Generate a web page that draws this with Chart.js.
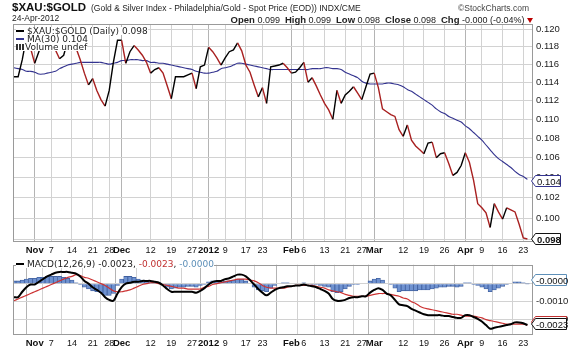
<!DOCTYPE html>
<html><head><meta charset="utf-8">
<script src="https://cdn.jsdelivr.net/npm/chart.js@4.4.0/dist/chart.umd.min.js"></script>
<style>
html,body{margin:0;padding:0;background:#fff;}
#wrap{position:relative;width:580px;height:349px;overflow:hidden;font-family:"Liberation Sans",Arial,sans-serif;color:#111;}
canvas{position:absolute;left:0;}
.t{position:absolute;white-space:nowrap;line-height:1;}
.lg{position:absolute;white-space:nowrap;font-family:"DejaVu Sans",Verdana,sans-serif;font-size:9px;line-height:8px;height:8px;background:#fff;color:#222;}
.dash{display:inline-block;width:8px;height:2px;vertical-align:middle;margin-right:3px;position:relative;top:-1px;}
svg.b{position:absolute;overflow:visible;}
</style></head><body>
<div id="wrap">
  <canvas id="main" width="580" height="256" style="top:0;width:580px;height:256px"></canvas>
  <canvas id="macd" width="580" height="93" style="top:256px;width:580px;height:93px"></canvas>

  <div class="t" style="left:12px;top:2px;font-size:11.5px;font-weight:bold;">$XAU:$GOLD</div>
  <div class="t" style="left:91px;top:4px;font-size:8.5px;color:#222;">(Gold &amp; Silver Index - Philadelphia/Gold - Spot Price (EOD)) INDX/CME</div>
  <div class="t" style="left:12px;top:14px;font-size:8.5px;color:#222;">24-Apr-2012</div>
  <div class="t" style="left:458px;top:4px;font-size:8.5px;color:#444;">&#169;StockCharts.com</div>
  <div class="t" style="right:47px;top:15px;font-size:9px;color:#222;"><b style="font-size:9.5px">Open</b> 0.099 &nbsp;<b style="font-size:9.5px">High</b> 0.099 &nbsp;<b style="font-size:9.5px">Low</b> 0.098 &nbsp;<b style="font-size:9.5px">Close</b> 0.098 &nbsp;<b style="font-size:9.5px">Chg</b> -0.000 (-0.04%) <svg width="6" height="5" style="vertical-align:middle"><polygon points="0,0 6,0 3,5" fill="#b00"/></svg></div>

  <div class="lg" style="left:16px;top:27px;"><span class="dash" style="background:#000"></span>$XAU:$GOLD (Daily) 0.098</div>
  <div class="lg" style="left:16px;top:35px;"><span class="dash" style="background:#33338f"></span>MA(30) 0.104</div>
  <div class="lg" style="left:16px;top:43px;"><span style="display:inline-block;width:8px;height:6px;margin-right:1px;background:linear-gradient(90deg,#333 0 2px,#fff 2px 3px,#333 3px 5px,#fff 5px 6px,#333 6px 8px);"></span>Volume undef</div>

  <div class="lg" style="left:16px;top:260px;"><span class="dash" style="background:#000"></span>MACD(12,26,9) -0.0023, <span style="color:#c03030">-0.0023</span>, <span style="color:#5d8fb8">-0.0000</span></div>

  <svg class="b" style="left:531px;top:175px" width="30" height="12"><polygon points="0.5,6 4.5,0.5 29.5,0.5 29.5,11.5 4.5,11.5" fill="#fff" stroke="#33338f"/><text x="6" y="9.5" font-family="Liberation Sans" font-size="9.5" fill="#111">0.104</text></svg>
  <svg class="b" style="left:531px;top:233px" width="30" height="12"><polygon points="0.5,6 4.5,0.5 29.5,0.5 29.5,11.5 4.5,11.5" fill="#fff" stroke="#111"/><text x="6" y="9.5" font-family="Liberation Sans" font-size="9.5" font-weight="bold" fill="#111">0.098</text></svg>
  <svg class="b" style="left:531px;top:274px" width="36" height="12"><polygon points="0.5,6 4.5,0.5 35.5,0.5 35.5,11.5 4.5,11.5" fill="#fff" stroke="#5d8fb8"/><text x="5" y="9.5" font-family="Liberation Sans" font-size="9.5" fill="#111">-0.0000</text></svg>
  <svg class="b" style="left:531px;top:316px" width="36" height="12"><polygon points="0.5,6 4.5,0.5 35.5,0.5 35.5,11.5 4.5,11.5" fill="#fff" stroke="#c03030"/></svg>
  <svg class="b" style="left:531px;top:318px" width="36" height="12"><polygon points="0.5,6 4.5,0.5 35.5,0.5 35.5,11.5 4.5,11.5" fill="#fff" stroke="#111"/><text x="5" y="9.5" font-family="Liberation Sans" font-size="9.5" fill="#111">-0.0023</text></svg>
</div>
<script>
// ---------------- data ----------------
const days = [
'Oct 25','Oct 26','Oct 27','Oct 28','Oct 31',
'Nov 1','Nov 2','Nov 3','Nov 4','Nov 7','Nov 8','Nov 9','Nov 10','Nov 11','Nov 14','Nov 15','Nov 16','Nov 17','Nov 18','Nov 21','Nov 22','Nov 23','Nov 25','Nov 28','Nov 29','Nov 30',
'Dec 1','Dec 2','Dec 5','Dec 6','Dec 7','Dec 8','Dec 9','Dec 12','Dec 13','Dec 14','Dec 15','Dec 16','Dec 19','Dec 20','Dec 21','Dec 22','Dec 23','Dec 27','Dec 28','Dec 29','Dec 30',
'Jan 3','Jan 4','Jan 5','Jan 6','Jan 9','Jan 10','Jan 11','Jan 12','Jan 13','Jan 17','Jan 18','Jan 19','Jan 20','Jan 23','Jan 24','Jan 25','Jan 26','Jan 27','Jan 30','Jan 31',
'Feb 1','Feb 2','Feb 3','Feb 6','Feb 7','Feb 8','Feb 9','Feb 10','Feb 13','Feb 14','Feb 15','Feb 16','Feb 17','Feb 21','Feb 22','Feb 23','Feb 24','Feb 27','Feb 28','Feb 29',
'Mar 1','Mar 2','Mar 5','Mar 6','Mar 7','Mar 8','Mar 9','Mar 12','Mar 13','Mar 14','Mar 15','Mar 16','Mar 19','Mar 20','Mar 21','Mar 22','Mar 23','Mar 26','Mar 27','Mar 28','Mar 29','Mar 30',
'Apr 2','Apr 3','Apr 4','Apr 5','Apr 9','Apr 10','Apr 11','Apr 12','Apr 13','Apr 16','Apr 17','Apr 18','Apr 19','Apr 20','Apr 23','Apr 24'];

const closes = [
0.1146,0.1146,0.1165,0.1190,0.1178,0.1161,0.1174,0.1185,0.1190,0.1182,
0.1176,0.1166,0.1170,0.1187,0.1185,0.1178,0.1165,0.1150,0.1137,0.1144,
0.1131,0.1121,0.1114,0.1131,0.1162,0.1187,0.1187,0.1161,0.1174,0.1181,
0.1176,0.1170,0.1162,0.1150,0.1154,0.1156,0.1150,0.1136,0.1122,0.1146,
0.1146,0.1146,0.1148,0.1150,0.1133,0.1157,0.1159,0.1179,0.1174,0.1167,
0.1159,0.1167,0.1174,0.1176,0.1184,0.1175,0.1159,0.1151,0.1137,0.1124,
0.1134,0.1117,0.1157,0.1158,0.1159,0.1161,0.1156,0.1150,0.1151,0.1156,
0.1162,0.1140,0.1145,0.1136,0.1126,0.1117,0.1110,0.1100,0.1131,0.1117,
0.1126,0.1130,0.1135,0.1128,0.1121,0.1135,0.1149,0.1150,0.1134,0.1111,
0.1108,0.1105,0.1103,0.1089,0.1082,0.1094,0.1078,0.1072,0.1068,0.1064,
0.1075,0.1076,0.1060,0.1064,0.1065,0.1054,0.1042,0.1045,0.1052,0.1065,
0.1055,0.1037,0.1014,0.1010,0.1005,0.0991,0.1014,0.1006,0.0999,0.1010,
0.1008,0.1006,0.0994,0.0981,0.0980];

const ma30 = [
0.1156,0.1155,0.1154,0.1152,0.1152,0.1151,0.1149,0.1149,0.1150,0.1151,
0.1152,0.1155,0.1157,0.1159,0.1160,0.1161,0.1162,0.1162,0.1162,0.1162,
0.1162,0.1162,0.1161,0.1160,0.1161,0.1162,0.1164,0.1164,0.1165,0.1165,
0.1165,0.1164,0.1164,0.1162,0.1162,0.1161,0.1161,0.1160,0.1159,0.1158,
0.1157,0.1156,0.1155,0.1154,0.1152,0.1151,0.1150,0.1150,0.1151,0.1152,
0.1155,0.1156,0.1157,0.1159,0.1161,0.1161,0.1160,0.1159,0.1158,0.1157,
0.1156,0.1155,0.1154,0.1154,0.1154,0.1154,0.1154,0.1154,0.1154,0.1154,
0.1154,0.1154,0.1155,0.1155,0.1155,0.1156,0.1156,0.1155,0.1155,0.1154,
0.1151,0.1149,0.1147,0.1145,0.1141,0.1139,0.1138,0.1138,0.1138,0.1138,
0.1139,0.1139,0.1138,0.1137,0.1135,0.1132,0.1130,0.1127,0.1124,0.1121,
0.1118,0.1115,0.1111,0.1108,0.1106,0.1103,0.1101,0.1099,0.1097,0.1093,
0.1090,0.1086,0.1082,0.1078,0.1073,0.1068,0.1063,0.1059,0.1056,0.1053,
0.1050,0.1046,0.1043,0.1041,0.1038];

const macdLine = [
-0.00075,-0.00075,-0.00045,-0.0002,-0.00005,-0.00005,0.0001,0.00025,0.0004,0.0005,
0.0006,0.00065,0.00065,0.00065,0.0006,0.00055,0.0004,0.00015,0,-0.0002,
-0.00035,-0.0005,-0.00075,-0.0009,-0.00095,-0.00055,-0.0002,0,0.00005,0.0001,
0.0001,0.00015,0.00015,0.00015,0.0001,0.00005,-0.0001,-0.0003,-0.00045,-0.00045,
-0.00045,-0.00045,-0.00045,-0.00045,-0.0005,-0.0004,-0.00025,-0.00005,0.0001,0.00015,
0.00015,0.00025,0.0003,0.0004,0.0005,0.0005,0.0004,0.0002,-0.00005,-0.0003,
-0.0005,-0.00065,-0.0005,-0.00035,-0.00025,-0.0002,-0.00015,-0.00015,-0.0001,-0.0001,
-0.00005,-0.0001,-0.00015,-0.0002,-0.0003,-0.0004,-0.00055,-0.00085,-0.00095,-0.00095,
-0.0009,-0.0008,-0.00075,-0.00075,-0.0007,-0.0007,-0.0005,-0.00035,-0.00025,-0.00035,
-0.00055,-0.00065,-0.0009,-0.00115,-0.0012,-0.00125,-0.0014,-0.0015,-0.0016,-0.0017,
-0.00175,-0.00175,-0.00175,-0.00175,-0.0018,-0.0018,-0.00185,-0.0019,-0.0019,-0.00175,
-0.00175,-0.00185,-0.00195,-0.0021,-0.0023,-0.0025,-0.00245,-0.0024,-0.00235,-0.0023,
-0.00225,-0.00215,-0.00215,-0.0022,-0.0023];

const signalLine = [
-0.00095,-0.00085,-0.00075,-0.00065,-0.00055,-0.00045,-0.00035,-0.00025,-0.00015,-0.00005,
0.00005,0.00015,0.00025,0.00035,0.0004,0.0005,0.00045,0.00035,0.0003,0.0002,
0.0001,0,-0.0001,-0.00025,-0.0004,-0.00045,-0.00045,-0.0004,-0.00035,-0.00025,
-0.00015,-0.00005,0,0.00005,0.00005,0,-0.00005,-0.0001,-0.00015,-0.0002,
-0.00025,-0.00025,-0.0003,-0.0003,-0.0003,-0.0003,-0.0002,-0.00015,-0.00005,0,
0.00005,0.0001,0.00015,0.0002,0.00025,0.00025,0.00025,0.0002,0.00015,0.00005,
-0.0001,-0.0002,-0.00025,-0.00025,-0.00025,-0.00025,-0.0002,-0.00015,-0.0001,-0.0001,
-0.0001,-0.0001,-0.0001,-0.00015,-0.0002,-0.00025,-0.00035,-0.0004,-0.00045,-0.0005,
-0.0006,-0.00065,-0.0007,-0.0007,-0.0007,-0.0007,-0.00065,-0.0006,-0.00055,-0.00055,
-0.00055,-0.0006,-0.00065,-0.0007,-0.0008,-0.00085,-0.001,-0.0011,-0.00125,-0.00135,
-0.0014,-0.00145,-0.0015,-0.00155,-0.0016,-0.00165,-0.0017,-0.0017,-0.00175,-0.0018,
-0.0018,-0.0018,-0.00185,-0.0019,-0.002,-0.00205,-0.0021,-0.00215,-0.0022,-0.00225,
-0.00225,-0.00225,-0.00225,-0.00225,-0.0023];

const histogram = [
0.00015,0.00015,0.0002,0.00025,0.0003,0.0003,0.00035,0.00035,0.0004,0.0004,
0.0004,0.0004,0.00035,0.0003,0.0002,0.00005,-0.00005,-0.0002,-0.0003,-0.0004,
-0.00045,-0.0005,-0.00065,-0.00065,-0.00055,-0.0001,0.00025,0.0004,0.0004,0.00035,
0.00025,0.0002,0.00015,0.0001,0.00005,0.00005,-0.00005,-0.0002,-0.0003,-0.00025,
-0.0002,-0.0002,-0.00015,-0.00015,-0.0002,-0.0001,-0.00005,0.0001,0.00015,0.00015,
0.0001,0.00015,0.00015,0.0002,0.00025,0.00025,0.00015,0,-0.0002,-0.00035,
-0.0004,-0.00045,-0.00025,-0.0001,0,0.00005,0.00005,0,0,0,
0.00005,0,-0.00005,-0.00005,-0.0001,-0.00015,-0.0002,-0.00045,-0.0005,-0.00045,
-0.0003,-0.00015,-0.00005,-0.00005,0,0,0.00015,0.00025,0.0003,0.0002,
0,-0.00005,-0.00025,-0.00045,-0.0004,-0.0004,-0.0004,-0.0004,-0.00035,-0.00035,
-0.00035,-0.0003,-0.00025,-0.0002,-0.0002,-0.00015,-0.00015,-0.0002,-0.00015,0.00005,
0.00005,-0.00005,-0.0001,-0.0002,-0.0003,-0.00045,-0.00035,-0.00025,-0.00015,-0.00005,
0,0.0001,0.0001,0.00005,-0.00001];

const tickDays = ['Nov 1','Nov 7','Nov 14','Nov 21','Nov 28','Dec 1','Dec 12','Dec 19','Dec 27','Jan 3','Jan 9','Jan 17','Jan 23','Feb 1','Feb 6','Feb 13','Feb 21','Feb 27','Mar 1','Mar 12','Mar 19','Mar 26','Apr 2','Apr 9','Apr 16','Apr 23'];
const tickText = ['Nov','7','14','21','28','Dec','12','19','27','2012','9','17','23','Feb','6','13','21','27','Mar','12','19','26','Apr','9','16','23'];
const priceTicks = [0.098,0.100,0.102,0.104,0.106,0.108,0.110,0.112,0.114,0.116,0.118,0.120];
const macdTicks = [0,-0.001,-0.002];

// ---------------- helpers ----------------
const isBold = t => !/^\d{1,2}$/.test(t);
const pts = arr => arr.map((v,i) => ({x:i, y:v}));
const xMin = -0.24, xMax = 125.35;

function xScale(){
  return {
    type:'linear', min:xMin, max:xMax, offset:false,
    afterBuildTicks: ax => { ax.ticks = tickDays.map(d => ({value: days.indexOf(d)})); },
    afterFit: s => { s.height = 14; },
    ticks:{ autoSkip:false, maxRotation:0, minRotation:0, padding:3, color:'#111',
      callback:(v,i) => tickText[i],
      font: c => ({family:'Liberation Sans', size: isBold(tickText[c.index]||'') ? 9.5 : 9, weight: isBold(tickText[c.index]||'') ? 'bold':'normal'}) },
    grid:{ drawTicks:false, color: c => isBold(tickText[c.index]||'') ? '#b4b4b4' : '#d2d2d2', lineWidth:1 },
    border:{ display:false }
  };
}

const frame = { id:'frame', afterDraw(chart){
  const a = chart.chartArea, ctx = chart.ctx;
  ctx.save(); ctx.strokeStyle = '#9a9a9a'; ctx.lineWidth = 1;
  ctx.strokeRect(Math.round(a.left)+0.5, Math.round(a.top)+0.5, Math.round(a.right-a.left)-1, Math.round(a.bottom-a.top)-1);
  ctx.restore();
}};

// ---------------- main price panel ----------------
new Chart(document.getElementById('main'), {
  type:'line',
  data:{ datasets:[
    { data: pts(closes), borderWidth:1.4, pointRadius:0, tension:0, order:0, borderColor:'#000',
      segment:{ borderColor: c => c.p1.parsed.y < c.p0.parsed.y ? '#a82020' : '#000' } },
    { data: pts(ma30), borderWidth:1.1, pointRadius:0, tension:0.3, order:1, borderColor:'#33338f' }
  ]},
  options:{
    responsive:false, animation:false, devicePixelRatio:1,
    layout:{ padding:{left:13, top:24, right:0, bottom:0}, autoPadding:false },
    plugins:{ legend:{display:false}, tooltip:{enabled:false} },
    scales:{
      x: xScale(),
      y:{ type:'logarithmic', position:'right', min:0.09772, max:0.12058,
        afterBuildTicks: ax => { ax.ticks = priceTicks.map(v => ({value:v})); },
        afterFit: s => { s.width = 47; },
        ticks:{ padding:3, color:'#222', font:{family:'Liberation Sans', size:9.5}, callback: v => Number(v).toFixed(3) },
        grid:{ drawTicks:false, color:'#d2d2d2' }, border:{display:false} }
    }
  },
  plugins:[frame]
});

// ---------------- MACD panel ----------------
new Chart(document.getElementById('macd'), {
  type:'bar',
  data:{ datasets:[
    { type:'line', data: pts(macdLine), borderColor:'#000', borderWidth:2, pointRadius:0, tension:0.3, order:0 },
    { type:'line', data: pts(signalLine), borderColor:'#cc3333', borderWidth:1.2, pointRadius:0, tension:0.3, order:1 },
    { type:'bar', data: pts(histogram), backgroundColor:'#6f92d0', borderColor:'#3f5f9f', borderWidth:0.8,
      barPercentage:1, categoryPercentage:1, order:2 }
  ]},
  options:{
    responsive:false, animation:false, devicePixelRatio:1,
    layout:{ padding:{left:13, top:1, right:0, bottom:0}, autoPadding:false },
    plugins:{ legend:{display:false}, tooltip:{enabled:false} },
    scales:{
      x: xScale(),
      y:{ type:'linear', position:'right', min:-0.00285, max:0.00105,
        afterBuildTicks: ax => { ax.ticks = macdTicks.map(v => ({value:v})); },
        afterFit: s => { s.width = 47; },
        ticks:{ padding:3, color:'#222', font:{family:'Liberation Sans', size:9.5}, callback: v => v === 0 ? '0.0000' : Number(v).toFixed(4) },
        grid:{ drawTicks:false, color:'#d2d2d2' }, border:{display:false} }
    }
  },
  plugins:[frame]
});
</script>
</body></html>
